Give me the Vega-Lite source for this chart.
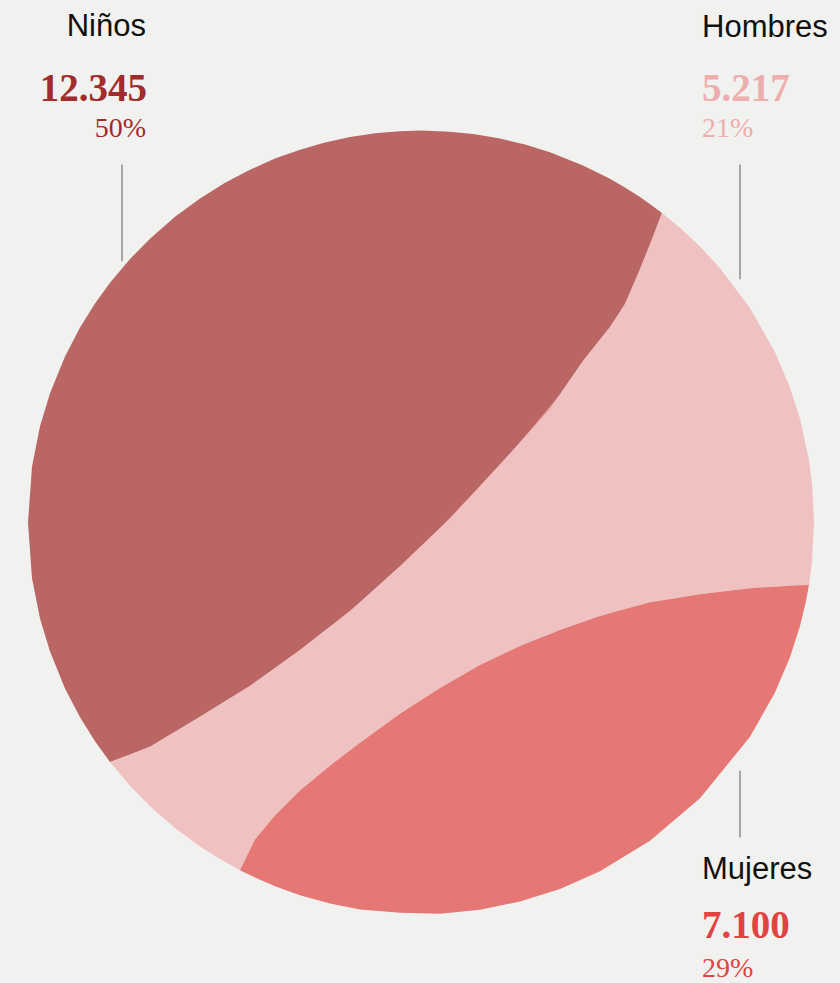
{
  "$schema": "https://vega.github.io/schema/vega-lite/v6.json",
  "width": 840,
  "height": 983,
  "autosize": {"type": "fit", "contains": "padding"},
  "padding": 0,
  "background": "#f1f1ef",
  "config": {"view": {"stroke": null}},
  "datasets": {
    "regions": [
      {"g": "Niños", "x": 28, "top": 524, "bottom": 524},
      {"g": "Niños", "x": 32, "top": 468.1, "bottom": 579.9},
      {"g": "Niños", "x": 40, "top": 427.6, "bottom": 620.4},
      {"g": "Niños", "x": 50, "top": 394.4, "bottom": 653.6},
      {"g": "Niños", "x": 65, "top": 357.5, "bottom": 690.5},
      {"g": "Niños", "x": 80, "top": 328.6, "bottom": 719.4},
      {"g": "Niños", "x": 95, "top": 304.5, "bottom": 743.5},
      {"g": "Niños", "x": 110, "top": 283.7, "bottom": 764.3},
      {"g": "Niños", "x": 130, "top": 259.9, "bottom": 756.7},
      {"g": "Niños", "x": 150, "top": 239.4, "bottom": 749},
      {"g": "Niños", "x": 175, "top": 217.5, "bottom": 734},
      {"g": "Niños", "x": 200, "top": 199.0, "bottom": 719},
      {"g": "Niños", "x": 225, "top": 183.4, "bottom": 703.5},
      {"g": "Niños", "x": 250, "top": 170.2, "bottom": 688},
      {"g": "Niños", "x": 275, "top": 159.1, "bottom": 670},
      {"g": "Niños", "x": 300, "top": 150.1, "bottom": 652},
      {"g": "Niños", "x": 325, "top": 142.9, "bottom": 632.5},
      {"g": "Niños", "x": 350, "top": 137.5, "bottom": 613},
      {"g": "Niños", "x": 375, "top": 133.7, "bottom": 590.5},
      {"g": "Niños", "x": 400, "top": 131.6, "bottom": 568},
      {"g": "Niños", "x": 421, "top": 131, "bottom": 547.8},
      {"g": "Niños", "x": 450, "top": 132.1, "bottom": 520},
      {"g": "Niños", "x": 475, "top": 134.7, "bottom": 493},
      {"g": "Niños", "x": 500, "top": 139.0, "bottom": 466},
      {"g": "Niños", "x": 525, "top": 145.0, "bottom": 438},
      {"g": "Niños", "x": 550, "top": 152.8, "bottom": 410},
      {"g": "Niños", "x": 583, "top": 165.9, "bottom": 362},
      {"g": "Niños", "x": 610, "top": 179.4, "bottom": 328},
      {"g": "Niños", "x": 625, "top": 188.1, "bottom": 305},
      {"g": "Niños", "x": 640, "top": 197.7, "bottom": 270},
      {"g": "Niños", "x": 652, "top": 206.1, "bottom": 240},
      {"g": "Niños", "x": 662, "top": 213.6, "bottom": 213.6},

      {"g": "Hombres", "x": 110, "top": 764.3, "bottom": 764.3},
      {"g": "Hombres", "x": 130, "top": 756.7, "bottom": 788.1},
      {"g": "Hombres", "x": 150, "top": 749, "bottom": 808.6},
      {"g": "Hombres", "x": 175, "top": 734, "bottom": 830.5},
      {"g": "Hombres", "x": 200, "top": 719, "bottom": 849.0},
      {"g": "Hombres", "x": 220, "top": 706.6, "bottom": 861.7},
      {"g": "Hombres", "x": 240, "top": 694.2, "bottom": 872.8},
      {"g": "Hombres", "x": 255, "top": 684.4, "bottom": 842},
      {"g": "Hombres", "x": 275, "top": 670, "bottom": 818},
      {"g": "Hombres", "x": 300, "top": 652, "bottom": 793},
      {"g": "Hombres", "x": 330, "top": 628.6, "bottom": 768},
      {"g": "Hombres", "x": 360, "top": 604, "bottom": 745},
      {"g": "Hombres", "x": 400, "top": 568, "bottom": 716},
      {"g": "Hombres", "x": 440, "top": 529.6, "bottom": 690},
      {"g": "Hombres", "x": 480, "top": 487.6, "bottom": 667},
      {"g": "Hombres", "x": 520, "top": 443.6, "bottom": 648},
      {"g": "Hombres", "x": 560, "top": 395.5, "bottom": 632},
      {"g": "Hombres", "x": 583, "top": 362, "bottom": 624},
      {"g": "Hombres", "x": 600, "top": 340.6, "bottom": 618},
      {"g": "Hombres", "x": 610, "top": 328, "bottom": 615.2},
      {"g": "Hombres", "x": 625, "top": 305, "bottom": 611},
      {"g": "Hombres", "x": 640, "top": 270, "bottom": 606.8},
      {"g": "Hombres", "x": 652, "top": 240, "bottom": 603.7},
      {"g": "Hombres", "x": 662, "top": 213.6, "bottom": 602.1},
      {"g": "Hombres", "x": 680, "top": 228.4, "bottom": 599.2},
      {"g": "Hombres", "x": 700, "top": 247.2, "bottom": 596},
      {"g": "Hombres", "x": 720, "top": 269.0, "bottom": 593.6},
      {"g": "Hombres", "x": 750, "top": 309, "bottom": 590},
      {"g": "Hombres", "x": 775, "top": 353.3, "bottom": 588.5},
      {"g": "Hombres", "x": 790, "top": 388.8, "bottom": 587.6},
      {"g": "Hombres", "x": 800, "top": 420, "bottom": 587.1},
      {"g": "Hombres", "x": 809, "top": 461.5, "bottom": 586.5},
      {"g": "Hombres", "x": 812, "top": 484.4, "bottom": 563.6},
      {"g": "Hombres", "x": 814, "top": 524, "bottom": 524},

      {"g": "Mujeres", "x": 240, "top": 872.8, "bottom": 872.8},
      {"g": "Mujeres", "x": 255, "top": 842, "bottom": 880.2},
      {"g": "Mujeres", "x": 275, "top": 818, "bottom": 888.9},
      {"g": "Mujeres", "x": 300, "top": 793, "bottom": 897.9},
      {"g": "Mujeres", "x": 330, "top": 768, "bottom": 906.3},
      {"g": "Mujeres", "x": 360, "top": 745, "bottom": 912.2},
      {"g": "Mujeres", "x": 400, "top": 716, "bottom": 915.6},
      {"g": "Mujeres", "x": 440, "top": 690, "bottom": 916.5},
      {"g": "Mujeres", "x": 480, "top": 667, "bottom": 912.5},
      {"g": "Mujeres", "x": 520, "top": 648, "bottom": 904.3},
      {"g": "Mujeres", "x": 560, "top": 632, "bottom": 891.6},
      {"g": "Mujeres", "x": 600, "top": 618, "bottom": 873.9},
      {"g": "Mujeres", "x": 650, "top": 604, "bottom": 843.4},
      {"g": "Mujeres", "x": 700, "top": 596, "bottom": 800.8},
      {"g": "Mujeres", "x": 750, "top": 590, "bottom": 739},
      {"g": "Mujeres", "x": 775, "top": 588.5, "bottom": 694.7},
      {"g": "Mujeres", "x": 790, "top": 587.6, "bottom": 659.2},
      {"g": "Mujeres", "x": 800, "top": 587.1, "bottom": 628},
      {"g": "Mujeres", "x": 806, "top": 586.7, "bottom": 602.9},
      {"g": "Mujeres", "x": 809, "top": 586.5, "bottom": 586.5}
    ],
    "ticks": [
      {"g": "Niños", "x": 122, "y": 165, "y2": 262},
      {"g": "Hombres", "x": 740, "y": 165, "y2": 280},
      {"g": "Mujeres", "x": 740, "y": 773, "y2": 840}
    ],
    "labels": [
      {"g": "Niños", "role": "title", "text": "Niños", "x": 146, "y": 36},
      {"g": "Niños", "role": "num", "text": "12.345", "x": 147, "y": 101},
      {"g": "Niños", "role": "pct", "text": "50%", "x": 146, "y": 137},
      {"g": "Hombres", "role": "title", "text": "Hombres", "x": 702, "y": 37},
      {"g": "Hombres", "role": "num", "text": "5.217", "x": 702, "y": 101},
      {"g": "Hombres", "role": "pct", "text": "21%", "x": 702, "y": 137},
      {"g": "Mujeres", "role": "title", "text": "Mujeres", "x": 702, "y": 882},
      {"g": "Mujeres", "role": "num", "text": "7.100", "x": 702, "y": 941},
      {"g": "Mujeres", "role": "pct", "text": "29%", "x": 702, "y": 980}
    ]
  },
  "layer": [
    {
      "data": {"name": "regions"},
      "mark": {"type": "area", "orient": "vertical", "fillOpacity": 0.7},
      "encoding": {
        "x": {"field": "x", "type": "quantitative", "scale": {"domain": [0, 840], "nice": false, "zero": false}, "axis": null},
        "y": {"field": "top", "type": "quantitative", "scale": {"domain": [0, 983], "nice": false, "zero": false, "reverse": true}, "axis": null, "stack": null},
        "y2": {"field": "bottom"},
        "color": {"field": "g", "type": "nominal", "scale": {"domain": ["Niños", "Hombres", "Mujeres"], "range": ["#a22b2b", "#eeaeae", "#e04341"]}, "legend": null}
      }
    },
    {
      "data": {"name": "ticks"},
      "mark": {"type": "rule", "stroke": "#8c8c8c", "strokeWidth": 1.5},
      "encoding": {
        "x": {"field": "x", "type": "quantitative"},
        "y": {"field": "y", "type": "quantitative"},
        "y2": {"field": "y2"}
      }
    },
    {
      "data": {"name": "labels"},
      "transform": [{"filter": "datum.role === 'title' && datum.g === 'Niños'"}],
      "mark": {"type": "text", "align": "right", "baseline": "alphabetic", "font": "Liberation Sans", "fontSize": 31, "color": "#111111"},
      "encoding": {"x": {"field": "x", "type": "quantitative"}, "y": {"field": "y", "type": "quantitative"}, "text": {"field": "text"}}
    },
    {
      "data": {"name": "labels"},
      "transform": [{"filter": "datum.role === 'title' && datum.g !== 'Niños'"}],
      "mark": {"type": "text", "align": "left", "baseline": "alphabetic", "font": "Liberation Sans", "fontSize": 31, "color": "#111111"},
      "encoding": {"x": {"field": "x", "type": "quantitative"}, "y": {"field": "y", "type": "quantitative"}, "text": {"field": "text"}}
    },
    {
      "data": {"name": "labels"},
      "transform": [{"filter": "datum.role === 'num' && datum.g === 'Niños'"}],
      "mark": {"type": "text", "align": "right", "baseline": "alphabetic", "font": "Liberation Serif", "fontWeight": "bold", "fontSize": 39},
      "encoding": {"x": {"field": "x", "type": "quantitative"}, "y": {"field": "y", "type": "quantitative"}, "text": {"field": "text"}, "color": {"field": "g", "type": "nominal", "legend": null}}
    },
    {
      "data": {"name": "labels"},
      "transform": [{"filter": "datum.role === 'num' && datum.g !== 'Niños'"}],
      "mark": {"type": "text", "align": "left", "baseline": "alphabetic", "font": "Liberation Serif", "fontWeight": "bold", "fontSize": 39},
      "encoding": {"x": {"field": "x", "type": "quantitative"}, "y": {"field": "y", "type": "quantitative"}, "text": {"field": "text"}, "color": {"field": "g", "type": "nominal", "legend": null}}
    },
    {
      "data": {"name": "labels"},
      "transform": [{"filter": "datum.role === 'pct' && datum.g === 'Niños'"}],
      "mark": {"type": "text", "align": "right", "baseline": "alphabetic", "font": "Liberation Serif", "fontSize": 28},
      "encoding": {"x": {"field": "x", "type": "quantitative"}, "y": {"field": "y", "type": "quantitative"}, "text": {"field": "text"}, "color": {"field": "g", "type": "nominal", "legend": null}}
    },
    {
      "data": {"name": "labels"},
      "transform": [{"filter": "datum.role === 'pct' && datum.g !== 'Niños'"}],
      "mark": {"type": "text", "align": "left", "baseline": "alphabetic", "font": "Liberation Serif", "fontSize": 28},
      "encoding": {"x": {"field": "x", "type": "quantitative"}, "y": {"field": "y", "type": "quantitative"}, "text": {"field": "text"}, "color": {"field": "g", "type": "nominal", "legend": null}}
    }
  ]
}
